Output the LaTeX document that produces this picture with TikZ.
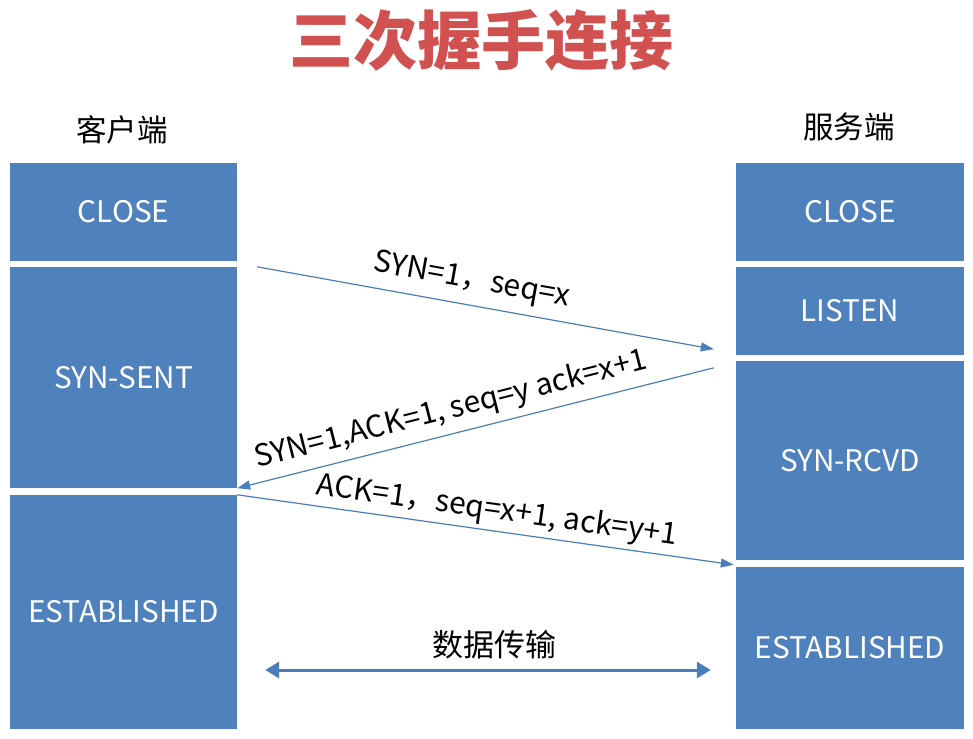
\documentclass[tikz,border=0pt]{standalone}
\usepackage{fontspec}
\setmainfont{Noto Sans CJK SC}
\usetikzlibrary{arrows.meta,calc}
\definecolor{boxblue}{HTML}{4F81BD}
\definecolor{arrowblue}{HTML}{4A7EBB}
\definecolor{titlered}{HTML}{D05150}
\begin{document}
\begin{tikzpicture}[x=1pt,y=-1pt,
  statebox/.style={fill=boxblue,draw=none,text=white,font=\fontsize{29.7}{33}\selectfont,inner sep=0pt},
  msg/.style={draw=arrowblue,line width=1.2pt,-{Triangle[length=13pt,width=9pt]}},
  msglabel/.style={font=\fontsize{30}{34}\selectfont,inner sep=0pt},
  side/.style={font=\fontsize{30.5}{34}\selectfont,inner sep=0pt}]
\useasboundingbox (0,0) rectangle (973,738);
% title
\node[font=\fontsize{64}{68}\selectfont\bfseries,text=titlered,inner sep=0pt] (title) at (481,40) {三次握手连接};
\node[side] (client) at (122,130) {客户端};
\node[side] (server) at (849,127) {服务端};
% left column
\node[statebox,minimum width=227pt,minimum height=98pt] (cClose) at (123.5,212) {CLOSE};
\node[statebox,minimum width=227pt,minimum height=221pt] (cSent) at (123.5,377.5) {SYN-SENT};
\node[statebox,minimum width=227pt,minimum height=234pt] (cEst) at (123.5,612) {ESTABLISHED};
% right column
\node[statebox,minimum width=228pt,minimum height=98pt] (sClose) at (850,212) {CLOSE};
\node[statebox,minimum width=228pt,minimum height=88pt] (sListen) at (850,311) {LISTEN};
\node[statebox,minimum width=228pt,minimum height=199pt] (sRcvd) at (850,460.5) {SYN-RCVD};
\node[statebox,minimum width=228pt,minimum height=162pt] (sEst) at (850,648) {ESTABLISHED};
% connector end points
\coordinate (m1s) at ($(cSent.north east)+(20,0)$);
\coordinate (m1e) at ($(sListen.south west)+(-22,-6)$);
\coordinate (m2s) at ($(sRcvd.north west)+(-22,7)$);
\coordinate (m2e) at (cSent.south east);
\coordinate (m3s) at (cEst.north west -| cEst.east);
\coordinate (m3e) at ($(sEst.north west)+(-2,-2)$);
\coordinate (d1) at ($(cEst.east)+(28,58)$);
\coordinate (d2) at ($(sEst.west)+(-25,22)$);
% messages
\draw[msg] (m1s) -- (m1e);
\draw[msg] (m2s) -- (m2e);
\draw[msg] (m3s) -- (m3e);
\draw[draw=arrowblue,line width=3pt,{Triangle[length=14pt,width=16pt]}-{Triangle[length=14pt,width=16pt]}] (d1) -- (d2);
% labels
\node[msglabel,rotate=-10.2] (l1) at (472,281) {SYN=1，seq=x};
\node[msglabel,rotate=14.2] (l2) at (451,410) {SYN=1,ACK=1, seq=y ack=x+1};
\node[msglabel,rotate=-8] (l3) at (497,511) {ACK=1，seq=x+1, ack=y+1};
\node[font=\fontsize{31}{34}\selectfont,inner sep=0pt] (data) at (494,645) {数据传输};
\end{tikzpicture}
\end{document}
